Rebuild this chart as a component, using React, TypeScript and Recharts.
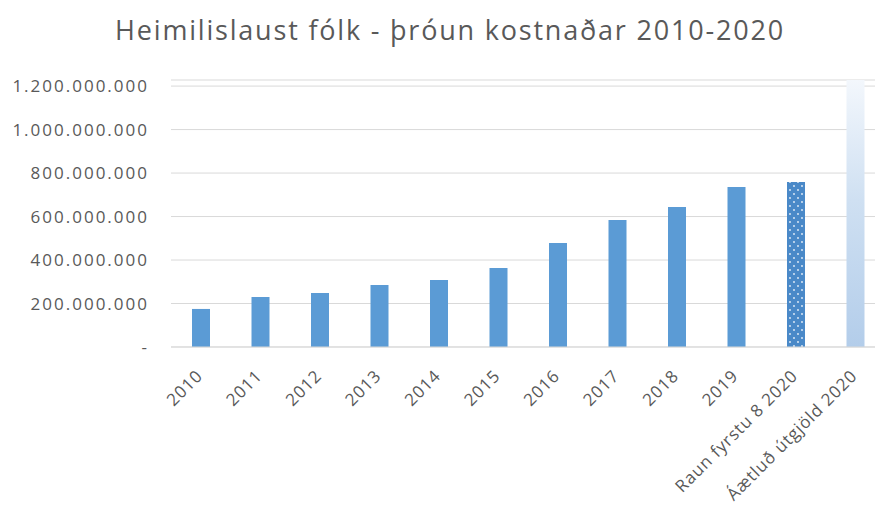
import { BarChart, Bar, XAxis, YAxis, CartesianGrid, Cell } from "recharts";

const categories = [
  "2010", "2011", "2012", "2013", "2014", "2015", "2016", "2017", "2018", "2019",
  "Raun fyrstu 8 2020", "Áætluð útgjöld 2020",
];
const costs = [
  175000000, 230000000, 248000000, 285000000, 308000000, 363000000,
  478000000, 584000000, 644000000, 736000000, 759000000, 1228000000,
];
const yTicks = [0, 200000000, 400000000, 600000000, 800000000, 1000000000, 1200000000];

const data = categories.map((name, i) => ({ name, cost: costs[i] }));

const FONT = "'Open Sans', 'Liberation Sans', sans-serif";
const GREY = "#595959";

const fmt = (v: number) =>
  v === 0 ? "-" : v.toString().replace(/\B(?=(\d{3})+(?!\d))/g, ".");

const XTick = (props: any) => {
  const { x, y, payload } = props;
  const ax = x + 3;
  const ay = y + 22;
  return (
    <text
      x={ax}
      y={ay}
      transform={`rotate(-45, ${ax}, ${ay})`}
      textAnchor="end"
      fontSize={17}
      letterSpacing={0.9}
      fill={GREY}
      fontFamily={FONT}
    >
      {payload.value}
    </text>
  );
};

export default function App() {
  return (
    <div style={{ position: "absolute", left: 0, top: 0, width: 875, height: 513, overflow: "hidden", background: "#fff" }}>
      <div
        style={{
          position: "absolute", top: 11, left: 0, width: 900, textAlign: "center",
          fontFamily: FONT, fontSize: 27, color: GREY, letterSpacing: 1.8,
        }}
      >
        Heimilislaust fólk - þróun kostnaðar 2010-2020
      </div>
      <BarChart
        width={885}
        height={513}
        data={data}
        margin={{ top: 80, right: 0, left: 0, bottom: 0 }}
        barCategoryGap="35%"
      >
        <defs>
          <linearGradient id="budgetGrad" x1="0" y1="0" x2="0" y2="1">
            <stop offset="0%" stopColor="#f3f7fc" />
            <stop offset="45%" stopColor="#cfe0f2" />
            <stop offset="100%" stopColor="#b3cdea" />
          </linearGradient>
          <pattern id="dots" width="8" height="8" patternUnits="userSpaceOnUse">
            <rect width="8" height="8" fill="#4a89c8" />
            <circle cx="2" cy="2" r="0.9" fill="#e8f0fa" />
            <circle cx="6" cy="6" r="0.9" fill="#e8f0fa" />
          </pattern>
        </defs>
        <CartesianGrid stroke="#d9d9d9" vertical={false} />
        <XAxis
          dataKey="name"
          interval={0}
          tick={<XTick />}
          tickLine={false}
          axisLine={{ stroke: "#d9d9d9" }}
          height={166}
        />
        <YAxis
          domain={[0, 1228000000]}
          ticks={yTicks}
          tickFormatter={fmt}
          width={171}
          tickLine={false}
          axisLine={false}
          tick={{ fontSize: 17, fill: GREY, fontFamily: FONT, letterSpacing: 2 }}
          tickMargin={16}
        />
        <Bar dataKey="cost" fill="#5b9bd5" barSize={18} isAnimationActive={false}>
          {data.map((d, i) => (
            <Cell
              key={d.name}
              fill={i === 10 ? "url(#dots)" : i === 11 ? "url(#budgetGrad)" : "#5b9bd5"}
            />
          ))}
        </Bar>
      </BarChart>
    </div>
  );
}
